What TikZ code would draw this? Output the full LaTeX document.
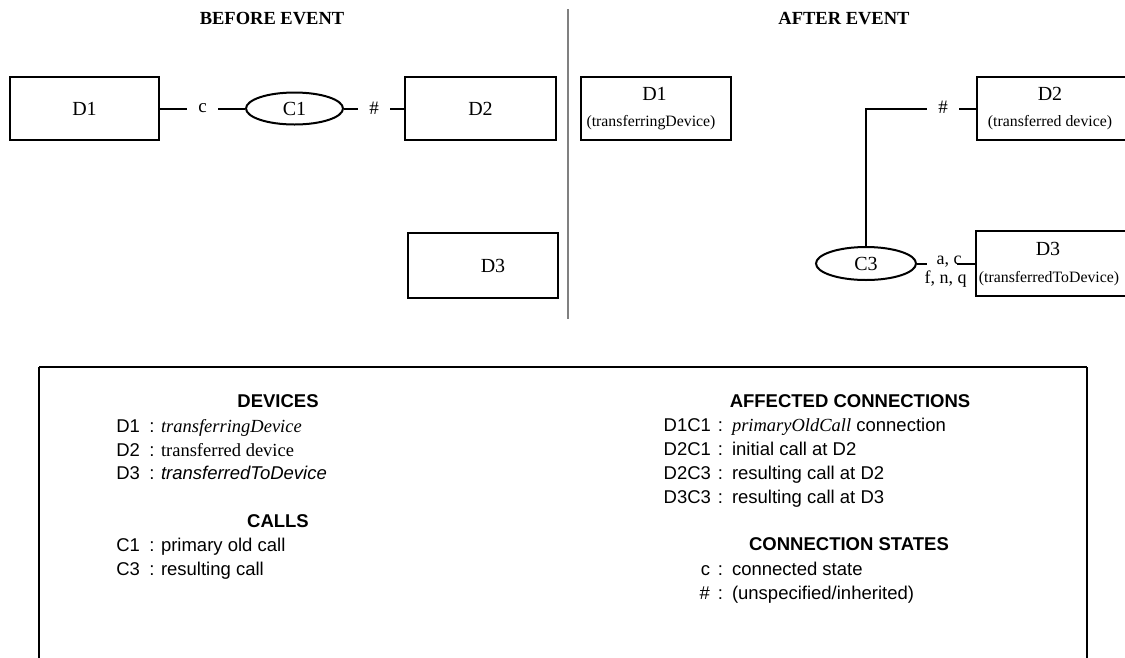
\documentclass[tikz,border=0pt]{standalone}
\usepackage{fontspec}
\setmainfont{Liberation Serif}
\setsansfont{Liberation Sans}
\usetikzlibrary{shapes.geometric}
\begin{document}
\begin{tikzpicture}[x=1pt,y=-1pt,line width=2pt,
  devbox/.style={draw,rectangle,inner sep=0pt},
  callell/.style={draw,ellipse,inner sep=0pt,font=\fontsize{20}{22}\selectfont},
  big/.style={font=\fontsize{20}{22}\selectfont,inner sep=0pt},
  small/.style={font=\fontsize{15.8}{18}\selectfont,inner sep=0pt},
  state/.style={font=\fontsize{19}{20}\selectfont,fill=white,inner xsep=11pt,inner ysep=0pt},
  conlbl/.style={font=\fontsize{18}{20}\selectfont,inner sep=0pt},
  title/.style={font=\bfseries\fontsize{18.5}{20}\selectfont,inner sep=0pt},
  lhead/.style={font=\sffamily\bfseries\fontsize{18.5}{20}\selectfont,anchor=base,inner sep=0pt},
  lkey/.style={font=\sffamily\fontsize{18.5}{20}\selectfont,anchor=base east,inner sep=0pt},
  lcol/.style={font=\sffamily\fontsize{18.5}{20}\selectfont,anchor=base,inner sep=0pt},
  ltxt/.style={font=\sffamily\fontsize{18.5}{20}\selectfont,anchor=base west,inner sep=0pt}]
\useasboundingbox (0,0) rectangle (1125,657);

% titles
\node[title] (tb) at (272,18.5) {BEFORE EVENT};
\node[title] (ta) at (844,18.5) {AFTER EVENT};
\draw[gray,line width=1.8pt] (568,9) coordinate (divt) -- (568,319) coordinate (divb);

% ---------- before ----------
\node[devbox,minimum width=149pt,minimum height=63pt,big] (d1b) at (84.5,108.5) {D1};
\node[callell,minimum width=97pt,minimum height=32pt] (c1b) at (294.5,108.5) {C1};
\node[devbox,minimum width=151pt,minimum height=63pt,big] (d2b) at (480.5,108.5) {D2};
\node[devbox,minimum width=150pt,minimum height=65pt] (d3b) at (483,265.5) {};
\node[big] (d3bt) at (493,266) {D3};

\draw (d1b.east) -- node[state] (sc) {c} (c1b.west);
\draw (c1b.east) -- node[state] (sh) {\#} (d2b.west);

% ---------- after ----------
\node[devbox,minimum width=150pt,minimum height=63pt] (d1a) at (656,108.5) {};
\node[big] (d1at) at (654.5,93.5) {D1};
\node[small] (d1as) at (651,123) {(transferringDevice)};

\node[devbox,minimum width=151pt,minimum height=63pt] (d2a) at (1052.5,108.5) {};
\node[big] (d2at) at (1050,93.5) {D2};
\node[small] (d2as) at (1050,123) {(transferred device)};

\node[devbox,minimum width=152pt,minimum height=65pt] (d3a) at (1052,263.5) {};
\node[big] (d3at) at (1048,249) {D3};
\node[small] (d3as) at (1049,279) {(transferredToDevice)};

\node[callell,minimum width=100pt,minimum height=33pt] (c3) at (866,263.5) {C3};

\draw (c3.north) |- (d2a.west);
\node[state] (sh2) at (943,107) {\#};

\coordinate (c3r) at (927,263.5);
\coordinate (d3l) at (957,263.5);
\draw (c3.east) -- (c3r);
\node[conlbl] (ac) at (949,261.5) {a, c};
\draw (d3l) -- (d3a.west);
\node[conlbl] (fnq) at (945.5,279.5) {f, n, q};

% ---------- legend ----------
\draw (39,367) coordinate (lgtl) -- (1087,367) coordinate (lgtr);
\draw (lgtl) -- (39,660);
\draw (lgtr) -- (1087,660);

\node[lhead] (hdev) at (278,407.5) {DEVICES};
\node[lkey] (k1) at (141,432.5) {D1};
\node[lcol] (k1c) at (152,432.5) {:};
\node[ltxt,font=\itshape\rmfamily\fontsize{18.5}{20}\selectfont] (k1t) at (160,432.5) {transferringDevice};
\node[lkey] (k2) at (141,456) {D2};
\node[lcol] (k2c) at (152,456) {:};
\node[ltxt,font=\rmfamily\fontsize{18.5}{20}\selectfont] (k2t) at (160,456) {transferred device};
\node[lkey] (k3) at (141,479.5) {D3};
\node[lcol] (k3c) at (152,479.5) {:};
\node[ltxt,font=\sffamily\itshape\fontsize{18.5}{20}\selectfont] (k3t) at (160,479.5) {transferredToDevice};

\node[lhead] (hcall) at (278,527.5) {CALLS};
\node[lkey] (k4) at (141,551.5) {C1};
\node[lcol] (k4c) at (152,551.5) {:};
\node[ltxt] (k4t) at (160,551.5) {primary old call};
\node[lkey] (k5) at (141,575.5) {C3};
\node[lcol] (k5c) at (152,575.5) {:};
\node[ltxt] (k5t) at (160,575.5) {resulting call};

\node[lhead] (hconn) at (850,407.5) {AFFECTED CONNECTIONS};
\node[lkey] (r1) at (712,431.5) {D1C1};
\node[lcol] (r1c) at (720.5,431.5) {:};
\node[ltxt] (r1t) at (731,431.5) {{\rmfamily\itshape primaryOldCall} connection};
\node[lkey] (r2) at (712,455.5) {D2C1};
\node[lcol] (r2c) at (720.5,455.5) {:};
\node[ltxt] (r2t) at (731,455.5) {initial call at D2};
\node[lkey] (r3) at (712,479.5) {D2C3};
\node[lcol] (r3c) at (720.5,479.5) {:};
\node[ltxt] (r3t) at (731,479.5) {resulting call at D2};
\node[lkey] (r4) at (712,503.5) {D3C3};
\node[lcol] (r4c) at (720.5,503.5) {:};
\node[ltxt] (r4t) at (731,503.5) {resulting call at D3};

\node[lhead] (hstate) at (849,550.5) {CONNECTION STATES};
\node[lkey] (s1) at (711,575.5) {c};
\node[lcol] (s1c) at (720.5,575.5) {:};
\node[ltxt] (s1t) at (731,575.5) {connected state};
\node[lkey] (s2) at (711,599.5) {\#};
\node[lcol] (s2c) at (720.5,599.5) {:};
\node[ltxt] (s2t) at (731,599.5) {(unspecified/inherited)};
\end{tikzpicture}
\end{document}
